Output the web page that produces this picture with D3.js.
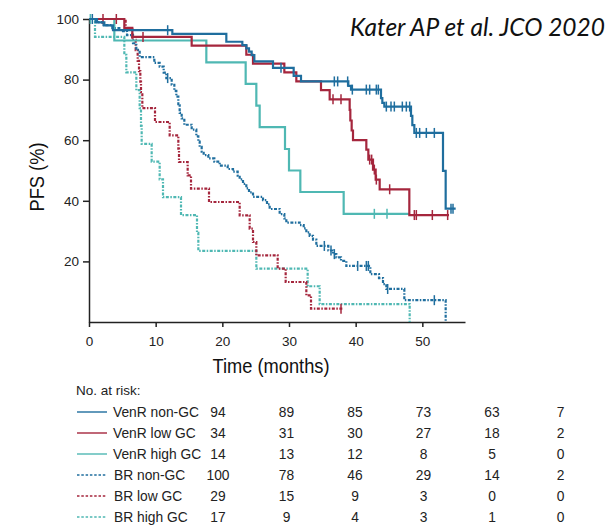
<!DOCTYPE html>
<html>
<head>
<meta charset="utf-8">
<script src="https://cdn.jsdelivr.net/npm/d3@7"></script>
<style>
  html, body { margin: 0; padding: 0; background: #fff; }
  svg { display: block; }
  .ax text { font-family: "Liberation Sans", Arial, sans-serif; font-size: 13.5px; fill: #222; }
  .ax path, .ax line { stroke: #222; stroke-width: 1.5; }
</style>
</head>
<body>
<svg id="chart" width="609" height="525"></svg>
<script>
// Kaplan–Meier steps: [month, PFS %] at each event
const venrNonGc = [[0,100],[1.2,98.9],[2.3,97.9],[3.6,96.3],[12.5,95.1],[20.6,92.5],[23.0,91.4],[23.6,90.3],[24.0,89.2],[24.4,88.1],[24.8,86.0],[27.6,83.9],[30.7,81.2],[31.8,79.4],[38.9,77.9],[39.3,76.7],[43.8,73.9],[44.0,72.3],[44.3,71.1],[48.3,68.0],[48.5,65.0],[48.8,62.4],[53.1,49.9],[53.5,37.4]];
const venrLowGc = [[0,100],[5.3,97.1],[6.5,94.1],[15.4,91.2],[23.6,88.2],[24.6,85.3],[29.3,82.4],[31.1,79.4],[34.8,76.5],[36.1,73.5],[39.1,70.0],[39.2,66.5],[39.4,63.2],[39.6,60.0],[41.6,56.9],[41.9,53.6],[42.6,50.3],[43.0,47.0],[43.6,43.8],[48.05,35.3]];
const venrHighGc = [[0,100],[3.8,92.9],[17.6,85.7],[23.5,78.6],[25.1,71.4],[25.6,64.3],[29.4,57.1],[30.0,50.0],[31.7,42.9],[38.2,35.7]];
const brNonGc = [[0,100],[1.0,99.0],[2.0,98.0],[3.5,97.0],[4.8,96.0],[5.7,94.7],[6.6,92.0],[7.1,89.8],[7.6,87.4],[9.8,85.5],[10.6,84.3],[11.2,82.3],[11.6,80.5],[12.4,78.3],[12.8,76.3],[13.1,74.4],[13.4,71.5],[13.6,69.0],[13.9,67.2],[14.3,65.1],[15.4,63.5],[16.1,61.3],[16.4,59.5],[16.6,57.8],[16.9,56.2],[17.2,55.1],[17.9,54.0],[18.8,52.9],[19.6,51.6],[20.8,50.5],[21.6,49.6],[22.3,48.3],[22.6,47.1],[23.1,45.6],[23.6,44.1],[24.0,42.8],[24.6,41.3],[26.1,40.2],[26.7,38.8],[27.1,37.3],[28.6,35.6],[29.3,34.2],[29.6,32.8],[31.6,32.0],[32.2,30.9],[32.6,29.6],[33.1,28.4],[33.6,27.2],[34.1,25.1],[35.9,23.6],[36.6,22.4],[37.1,21.3],[37.8,20.2],[38.6,18.5],[42.2,15.8],[43.5,14.5],[44.1,12.5],[44.6,10.9],[47.3,7.2],[53.5,0]];
const brLowGc = [[0,100],[5.5,96.6],[6.5,93.1],[7.0,89.7],[7.3,86.2],[7.5,82.8],[7.7,79.3],[7.8,75.9],[8.0,70.6],[9.9,66.0],[12.1,61.6],[13.4,57.2],[13.5,52.8],[14.8,48.4],[15.3,44.0],[18.0,39.6],[22.6,35.2],[24.1,30.8],[24.6,26.4],[25.1,22.0],[28.3,17.6],[29.5,13.2],[32.6,8.8],[33.3,4.4]];
const brHighGc = [[0,100],[0.9,94.1],[5.3,88.2],[5.6,82.4],[7.1,76.5],[7.6,70.6],[7.8,64.7],[7.9,58.8],[9.4,52.9],[10.6,47.1],[11.1,41.2],[13.8,35.3],[16.2,29.4],[16.4,23.5],[25.1,17.6],[32.8,11.8],[34.6,5.9],[48.1,0]];

// Last follow-up month of each curve
const lastFollowUp = [55.0, 54.0, 48.0, 53.5, 38.2, 48.1];

// Censored observations (months)
const venrNonGcCensor = [0.5,11.8,28.8,36.8,37.3,38.8,39.5,41.6,42.1,43.1,43.4,44.6,45.3,45.8,47.0,47.6,48.1,49.1,49.6,50.6,51.8,54.3,54.6];
const venrLowGcCensor = [2.1,4.1,8.1,36.6,37.8,42.1,42.4,42.8,43.1,45.1,48.8,49.1,51.5,53.8];
const venrHighGcCensor = [0.2,42.8,44.7];
const brNonGcCensor = [11.8,35.3,36.3,36.8,40.3,41.6,41.9,44.8,51.8];
const brLowGcCensor = [37.8];
const brHighGcCensor = [];

// Groups and styling keys
const groups = ["VenR non-GC","VenR low GC","VenR high GC","BR non-GC","BR low GC","BR high GC"];
const groupColors = ["#1f6e9e","#a5263d","#4fb8b3","#1f6e9e","#a5263d","#4fb8b3"];
const groupDashed = [false,false,false,true,true,true];

// Number at risk table
const riskTimes = [0,10,20,30,40,50];
const atRisk = [
  [94,89,85,73,63,7],
  [34,31,30,27,18,2],
  [14,13,12,8,5,0],
  [100,78,46,29,14,2],
  [29,15,9,3,0,0],
  [17,9,4,3,1,0]
];

const xTicks = [0,10,20,30,40,50];
const yTicks = [20,40,60,80,100];

const curves = [venrNonGc, venrLowGc, venrHighGc, brNonGc, brLowGc, brHighGc];
const censors = [venrNonGcCensor, venrLowGcCensor, venrHighGcCensor, brNonGcCensor, brLowGcCensor, brHighGcCensor];

const svg = d3.select("#chart");
const x = d3.scaleLinear().domain([0, 56.4]).range([89, 465]);
const y = d3.scaleLinear().domain([0, 100]).range([322, 19]);

// Axes
svg.append("g").attr("class", "ax")
  .attr("transform", "translate(89,0)")
  .call(d3.axisLeft(y).tickValues(yTicks).tickSize(6).tickSizeOuter(0).tickPadding(4));
svg.append("g").attr("class", "ax")
  .attr("transform", "translate(0,322)")
  .call(d3.axisBottom(x).tickValues(xTicks).tickSize(5).tickSizeOuter(0).tickPadding(9));

// Axis titles (condensed face)
const titleFont = "'Liberation Sans', Arial, sans-serif";
svg.append("text")
  .attr("transform", "translate(44,177) rotate(-90) scale(0.87,1)")
  .attr("text-anchor", "middle")
  .style("font-family", titleFont)
  .style("font-size", "21px").style("fill", "#111")
  .text("PFS (%)");
svg.append("text")
  .attr("transform", "translate(271,373) scale(0.87,1)")
  .attr("text-anchor", "middle")
  .style("font-family", titleFont)
  .style("font-size", "21px").style("fill", "#111")
  .text("Time (months)");

// Citation
svg.append("text")
  .attr("x", 605).attr("y", 36)
  .attr("text-anchor", "end")
  .style("font-family", "Lato, 'Open Sans', sans-serif")
  .style("font-style", "italic")
  .style("font-size", "24.5px").style("fill", "#111")
  .text("Kater AP et al. JCO 2020");

// Survival value at time t for a step curve
function survAt(curve, t) {
  let v = curve[0][1];
  for (const [ti, si] of curve) { if (ti <= t) v = si; else break; }
  return v;
}

const line = d3.line().x(d => x(d[0])).y(d => y(d[1])).curve(d3.curveStepAfter);
const dash = "3,1.5,1.5,1.5";

// Dotted BR curves underneath, solid VenR curves on top
const order = [5, 4, 3, 2, 1, 0];
order.forEach(i => {
  const c = curves[i];
  const last = c[c.length - 1];
  const pts = c.concat(lastFollowUp[i] > last[0] ? [[lastFollowUp[i], last[1]]] : []);
  const g = svg.append("g");
  g.append("path")
    .attr("d", line(pts))
    .attr("fill", "none")
    .attr("stroke", groupColors[i])
    .attr("stroke-width", 2.2)
    .attr("stroke-dasharray", groupDashed[i] ? dash : null);
  g.selectAll("line.cens")
    .data(censors[i])
    .join("line")
    .attr("x1", d => x(d)).attr("x2", d => x(d))
    .attr("y1", d => y(survAt(c, d)) - 5)
    .attr("y2", d => y(survAt(c, d)) + 5)
    .attr("stroke", groupColors[i])
    .attr("stroke-width", 1.5);
});

// Number at risk
const tableFont = "'Liberation Sans', Arial, sans-serif";
svg.append("text")
  .attr("x", 76).attr("y", 390)
  .attr("dominant-baseline", "central")
  .style("font-family", tableFont).style("font-size", "13.5px").style("fill", "#222")
  .text("No. at risk:");

const colX = d3.scaleLinear().domain([0, 50]).range([218, 560.5]);
const rowY = d3.scaleLinear().domain([0, 5]).range([412, 517]);

groups.forEach((name, i) => {
  const yy = rowY(i);
  svg.append("line")
    .attr("x1", 77).attr("x2", 107).attr("y1", yy).attr("y2", yy)
    .attr("stroke", groupColors[i]).attr("stroke-width", 1.4)
    .attr("stroke-dasharray", groupDashed[i] ? "2.5,1.8" : null);
  svg.append("text")
    .attr("x", groupDashed[i] ? 114 : 113).attr("y", yy)
    .attr("dominant-baseline", "central")
    .style("font-family", tableFont).style("font-size", "13.8px").style("fill", "#222")
    .text(name);
  atRisk[i].forEach((n, j) => {
    svg.append("text")
      .attr("x", colX(riskTimes[j])).attr("y", yy)
      .attr("text-anchor", "middle")
      .attr("dominant-baseline", "central")
      .style("font-family", tableFont).style("font-size", "13.8px").style("fill", "#222")
      .text(n);
  });
});
</script>
</body>
</html>
